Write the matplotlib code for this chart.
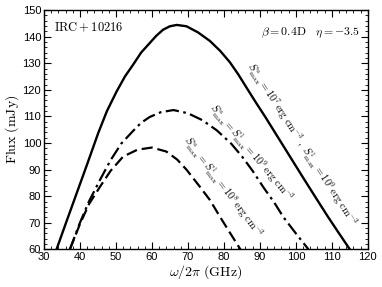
import matplotlib
matplotlib.use("Agg")
import matplotlib.pyplot as plt
from matplotlib.ticker import MultipleLocator

plt.rcParams["mathtext.fontset"] = "cm"
plt.rcParams["font.family"] = ["Liberation Sans", "DejaVu Sans"]

# curves (GHz, mJy)
freq_solid = [33.5, 36.0, 38.8, 42.0, 45.1, 47.5, 50.2, 52.5, 54.8, 57.0, 59.4, 61.2,
              63.1, 65.0, 66.9, 69.6, 72.8, 76.1, 79.0, 81.7, 84.0, 86.3, 89.0, 91.6,
              95.0, 98.5, 102.0, 105.5, 108.8, 112.0, 115.0]
flux_solid = [60.0, 69.5, 80.0, 92.0, 103.8, 112.0, 119.4, 125.0, 129.5, 134.0, 137.6, 140.3,
              142.6, 143.9, 144.4, 143.9, 141.6, 138.4, 134.6, 130.3, 125.8, 120.8, 115.0, 109.6,
              102.2, 94.6, 87.0, 79.5, 72.5, 66.0, 60.0]

freq_dashdot = [37.2, 40.0, 42.5, 45.6, 48.5, 51.5, 54.8, 57.0, 59.4, 62.5, 66.0, 70.0,
                74.0, 78.0, 82.0, 85.0, 88.0, 91.0, 94.0, 96.5, 100.0, 103.5]
flux_dashdot = [60.0, 70.0, 78.0, 86.2, 93.5, 99.8, 104.6, 107.6, 109.8, 111.6, 112.4, 111.2,
                108.6, 104.8, 99.8, 95.0, 89.5, 83.3, 77.6, 72.2, 66.0, 60.0]

freq_dashed = [37.2, 40.0, 42.5, 45.6, 48.5, 52.0, 56.0, 60.0, 64.0, 67.0, 69.6, 73.3,
               76.1, 78.9, 81.8, 84.6]
flux_dashed = [60.0, 69.5, 77.0, 83.6, 89.5, 94.9, 97.5, 98.3, 96.8, 93.8, 90.0, 83.6,
               78.6, 72.3, 66.0, 60.0]

fig = plt.figure(figsize=(3.82, 2.87), dpi=100)
ax = fig.add_axes([0.115, 0.131, 0.848, 0.834])

ax.plot(freq_solid, flux_solid, color="black", lw=1.7, ls="-")
ax.plot(freq_dashdot, flux_dashdot, color="black", lw=1.6, dashes=(6, 2, 1.2, 2))
ax.plot(freq_dashed, flux_dashed, color="black", lw=1.6, dashes=(5, 2.2))

ax.set_xlim(30, 120)
ax.set_ylim(60, 150)
ax.xaxis.set_major_locator(MultipleLocator(10))
ax.xaxis.set_minor_locator(MultipleLocator(2))
ax.yaxis.set_major_locator(MultipleLocator(10))
ax.yaxis.set_minor_locator(MultipleLocator(2))
ax.tick_params(which="both", direction="in", top=True, right=True, labelsize=8, pad=2)
ax.tick_params(which="major", length=5, width=0.8)
ax.tick_params(which="minor", length=2.5, width=0.6)
for s in ax.spines.values():
    s.set_linewidth(1.0)

ax.set_xlabel(r"$\omega/2\pi\ \mathrm{(GHz)}$", fontsize=10, labelpad=1)
ax.set_ylabel(r"$\mathrm{Flux\ (mJy)}$", fontsize=10, labelpad=1)

ax.text(0.03, 0.955, r"$\mathrm{IRC + 10216}$", transform=ax.transAxes, fontsize=9,
        ha="left", va="top")
ax.text(0.975, 0.935, r"$\beta = 0.4\mathrm{D}\quad \eta = -3.5$", transform=ax.transAxes,
        fontsize=8.5, ha="right", va="top")

ax.text(101.6, 99.7,
        r"$S^{\mathrm{u}}_{\mathrm{max}} = 10^{7}\,\mathrm{erg\ cm^{-3}}\ ,\ "
        r"S^{\mathrm{l}}_{\mathrm{max}} = 10^{9}\,\mathrm{erg\ cm^{-3}}$",
        rotation=-57, fontsize=7.5, ha="center", va="center", rotation_mode="anchor")
ax.text(87.4, 96.3,
        r"$S^{\mathrm{u}}_{\mathrm{max}} = S^{\mathrm{l}}_{\mathrm{max}} = 10^{9}\,\mathrm{erg\ cm^{-3}}$",
        rotation=-50, fontsize=7.5, ha="center", va="center", rotation_mode="anchor")
ax.text(79.7, 83.2,
        r"$S^{\mathrm{u}}_{\mathrm{max}} = S^{\mathrm{l}}_{\mathrm{max}} = 10^{8}\,\mathrm{erg\ cm^{-3}}$",
        rotation=-53, fontsize=7.5, ha="center", va="center", rotation_mode="anchor")

fig.savefig("out.png", dpi=100)
